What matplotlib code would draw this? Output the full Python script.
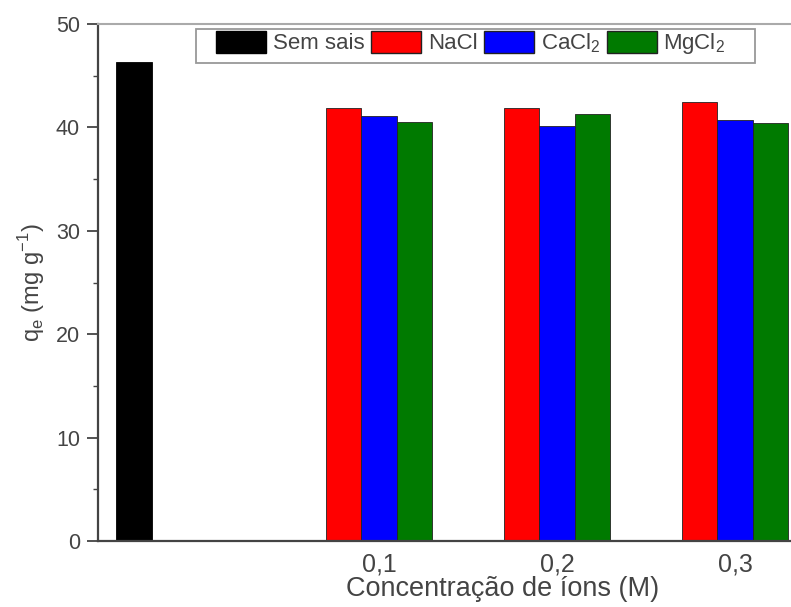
import numpy as np
import matplotlib
matplotlib.use('Agg')
import matplotlib.pyplot as plt
from matplotlib.patches import Patch, Rectangle
from matplotlib.ticker import MultipleLocator

plt.rcParams['font.family'] = ['Liberation Sans', 'DejaVu Sans']

# dados
sem_sais = 46.3
conc = ['0,1', '0,2', '0,3']
nacl = [41.9, 41.9, 42.5]
cacl2 = [41.1, 40.1, 40.7]
mgcl2 = [40.5, 41.3, 40.4]

W, H = 791, 607
fig = plt.figure(figsize=(W / 100, H / 100), dpi=100)
# o grafico original foi cortado a direita, por isso o eixo passa da figura
ax = fig.add_axes([98 / W, 66 / H, 810 / W, 517 / H])

w = 0.2
x = np.arange(1, 4)
ax.bar(-0.376, sem_sais, w, color='black', edgecolor='black', lw=0.6)
ax.bar(x - w, nacl, w, color='#ff0000', edgecolor='#222222', lw=0.6)
ax.bar(x, cacl2, w, color='#0000ff', edgecolor='#222222', lw=0.6)
ax.bar(x + w, mgcl2, w, color='#007a00', edgecolor='#222222', lw=0.6)

ax.set_xlim(-0.579, 3.972)
ax.set_ylim(0, 50)
ax.set_xticks(x)
ax.set_xticklabels(conc)
ax.yaxis.set_major_locator(MultipleLocator(10))
ax.yaxis.set_minor_locator(MultipleLocator(5))
ax.tick_params(axis='x', length=0, labelsize=18, pad=8, colors='#444444')
ax.tick_params(axis='y', which='major', length=8, width=1.3, labelsize=15.5, pad=5, colors='#444444')
ax.tick_params(axis='y', which='minor', length=3.5, width=1.0, colors='#444444')
for s in ['left', 'bottom']:
    ax.spines[s].set_color('#444444')
    ax.spines[s].set_linewidth(1.6)
ax.spines['top'].set_color('#aaaaaa')
ax.spines['top'].set_linewidth(1.5)
ax.spines['right'].set_visible(False)

ax.set_xlabel('Concentração de íons (M)', fontsize=19.5, color='#444444', labelpad=0)
ax.set_ylabel(r'q$_\mathregular{e}$ (mg g$^\mathregular{-1}$)', fontsize=17,
              color='#444444', labelpad=6)

handles = [Patch(facecolor='black', edgecolor='black', label='Sem sais'),
           Patch(facecolor='#ff0000', edgecolor='#222222', label='NaCl'),
           Patch(facecolor='#0000ff', edgecolor='#222222', label=r'CaCl$_\mathregular{2}$'),
           Patch(facecolor='#007a00', edgecolor='#222222', label=r'MgCl$_\mathregular{2}$')]
leg = fig.legend(handles=handles, ncol=4, loc='upper left',
                 bbox_to_anchor=(216 / W, 1 - 31 / H), borderaxespad=0, borderpad=0,
                 fontsize=16, handlelength=2.25, handleheight=1.12,
                 columnspacing=0.3, handletextpad=0.3, frameon=False)
for t in leg.get_texts():
    t.set_color('#444444')

# moldura da legenda
fig.canvas.draw()
bb = leg.get_window_extent()
fig.patches.append(Rectangle((bb.x0 - 20, H - 63), bb.width + 50, 34,
                             transform=None, fill=False, edgecolor='#999999', lw=1.3))

fig.savefig('out.png', dpi=100)
